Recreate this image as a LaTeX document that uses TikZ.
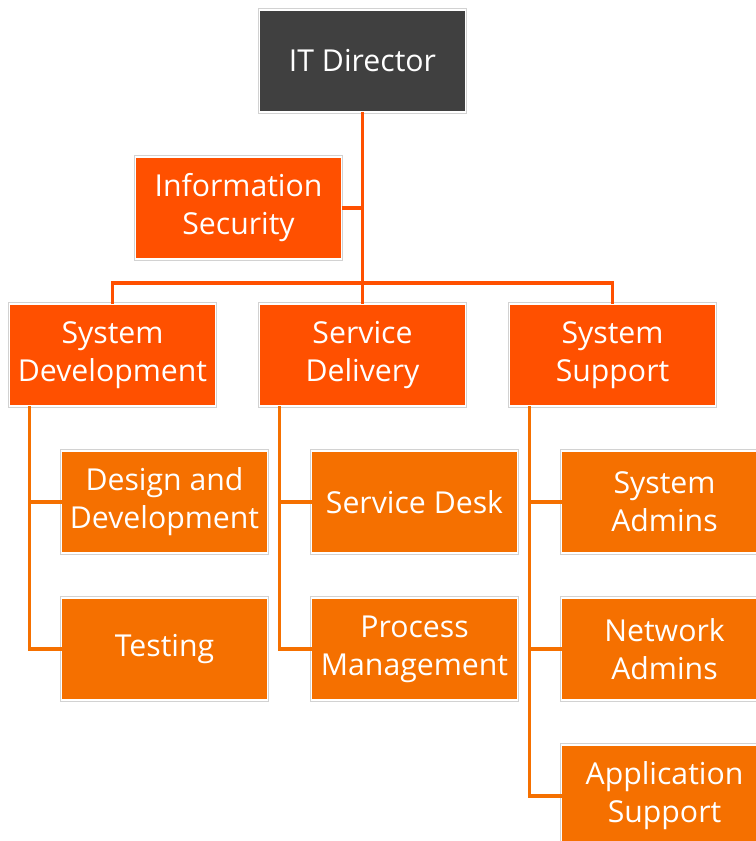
\documentclass[tikz,border=0pt]{standalone}
\usepackage{fontspec}
\setmainfont{Open Sans}
\usepackage{xcolor}
\usetikzlibrary{positioning}

\definecolor{darkbox}{HTML}{404040}
\definecolor{redorange}{HTML}{FF5000}
\definecolor{lightorange}{HTML}{F57000}

\begin{document}
\begin{tikzpicture}[
    node distance=1.125cm and 1.1cm,
    unit/.style={rectangle, draw=white, line width=1.4pt, preaction={draw=gray!35, line width=2.8pt}, outer sep=0pt, minimum width=5.15cm, minimum height=2.55cm, inner sep=2pt, align=center, text=white, font=\fontsize{21.5}{27}\selectfont},
    head/.style={unit, fill=darkbox},
    dept/.style={unit, fill=redorange},
    team/.style={unit, fill=lightorange},
    link/.style={redorange, line width=2.2pt},
    sublink/.style={lightorange, line width=2.2pt},
]
\useasboundingbox (0,0) rectangle (18.875,-21.025);

% Nodes
\node[head] (director) at (9.0625,-1.525) {IT Director};
\node[dept, below=4.8cm of director] (delivery) {Service\\Delivery};
\node[dept, left=of delivery] (sysdev) {System\\Development};
\node[dept, right=of delivery] (support) {System\\Support};
\node[dept, below=of director.south, xshift=-3.1cm] (security) {Information\\Security};

% Team nodes
\node[team, below right=1.125cm and 1.3cm of sysdev.south west] (design) {Design and\\Development};
\node[team, below=of design] (testing) {Testing};
\node[team, below right=1.125cm and 1.3cm of delivery.south west] (desk) {Service Desk};
\node[team, below=of desk] (process) {Process\\Management};
\node[team, below right=1.125cm and 1.3cm of support.south west] (admins) {System\\Admins};
\node[team, below=of admins] (network) {Network\\Admins};
\node[team, below=of network] (appsupport) {Application\\Support};

% Links
\draw[link] (director) -- (delivery);
\draw[link] (security.east) -- (security.east -| director.south);
\draw[link] (sysdev.north) -- ++(0,0.525) -| (support.north);

% Team links
\draw[sublink] ([xshift=0.5cm]sysdev.south west) |- (design.west);
\draw[sublink] ([xshift=0.5cm]sysdev.south west) |- (testing.west);
\draw[sublink] ([xshift=0.5cm]delivery.south west) |- (desk.west);
\draw[sublink] ([xshift=0.5cm]delivery.south west) |- (process.west);
\draw[sublink] ([xshift=0.5cm]support.south west) |- (admins.west);
\draw[sublink] ([xshift=0.5cm]support.south west) |- (network.west);
\draw[sublink] ([xshift=0.5cm]support.south west) |- (appsupport.west);

\end{tikzpicture}
\end{document}
